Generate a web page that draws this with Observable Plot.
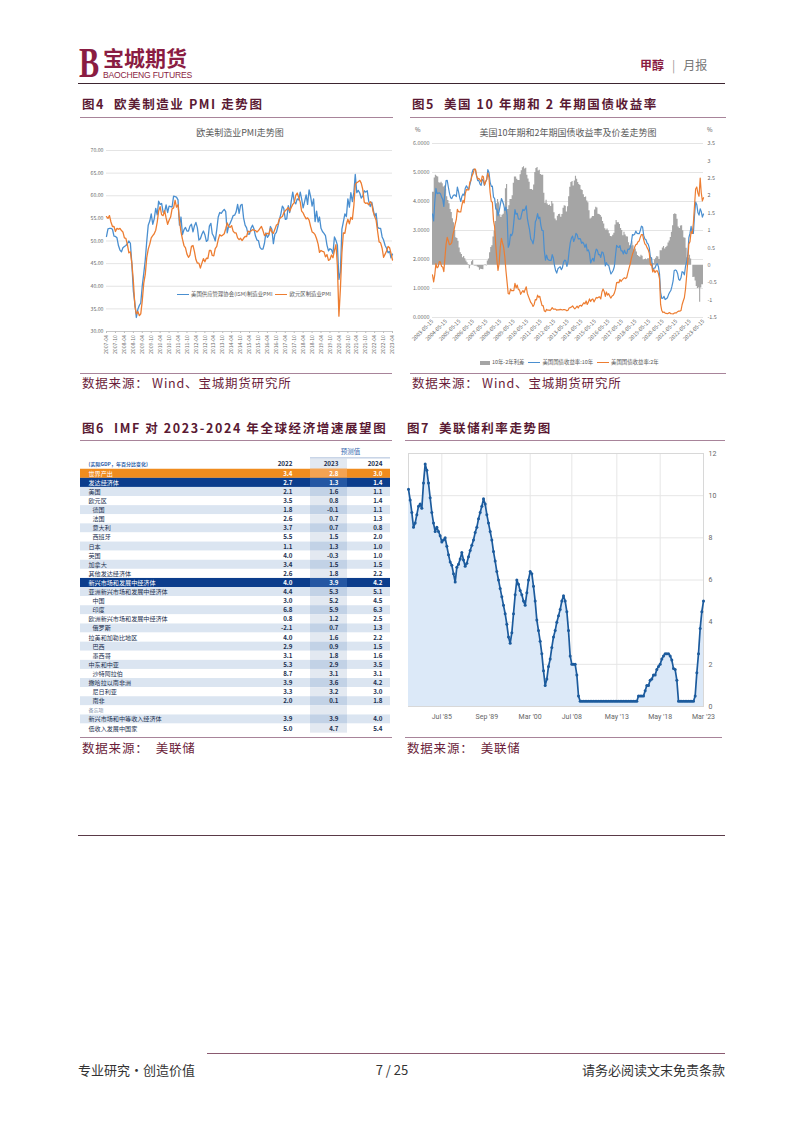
<!DOCTYPE html>
<html><head><meta charset="utf-8">
<script src="https://cdn.jsdelivr.net/npm/d3@7"></script>
<script src="https://cdn.jsdelivr.net/npm/@observablehq/plot@0.6"></script>
<style>
body{margin:0;background:#fff;font-family:"Noto Sans CJK SC","Noto Sans",sans-serif;}
#page{position:relative;width:802px;height:1133px;overflow:hidden;background:#fff;}
.abs{position:absolute;white-space:nowrap;}
.ftitle{font-size:12.5px;font-weight:bold;color:#5a1a33;line-height:14px;letter-spacing:1.6px;}
.hr{position:absolute;height:0;border-top:1px solid #a8849a;}
.src{font-size:12.5px;color:#6b1d3a;line-height:14px;letter-spacing:0.8px;}
.ctitle{font-size:9px;color:#595959;line-height:10px;transform:translateX(-50%);}
.leg{display:flex;align-items:center;font-size:5.4px;color:#595959;line-height:7px;}
.leg span.sw{display:inline-block;margin-right:2px;}
</style></head>
<body><div id="page">
<!-- header -->
<div class="abs" style="left:79px;top:41px;font-family:'Liberation Serif',serif;font-size:42px;font-weight:bold;color:#8a1c42;line-height:44px;transform:scaleX(0.72);transform-origin:left top;">B</div>
<div class="abs" style="left:103px;top:45px;font-size:21px;font-weight:bold;color:#8a1c42;line-height:24px;">宝城期货</div>
<div class="abs" style="left:103px;top:70px;font-family:'Liberation Sans',sans-serif;font-size:8.6px;color:#8a1c42;line-height:10px;letter-spacing:-0.2px;">BAOCHENG FUTURES</div>
<div class="abs" style="left:640px;top:57px;font-size:12px;line-height:15px;"><b style="color:#8a1c42;">甲醇</b><span style="color:#999;margin:0 8px;">|</span><span style="color:#777;">月报</span></div>
<div class="hr" style="left:78px;top:83px;width:647px;border-top:1.5px solid #3d2530;"></div>

<!-- fig titles row 1 -->
<div class="abs ftitle" style="left:82px;top:97px;">图4&nbsp;&nbsp;欧美制造业 PMI 走势图</div>
<div class="abs ftitle" style="left:412px;top:97px;">图5&nbsp;&nbsp;美国 10 年期和 2 年期国债收益率</div>
<div class="hr" style="left:80px;top:117px;width:313px;"></div>
<div class="hr" style="left:410px;top:117px;width:316px;"></div>

<div id="fig4" class="abs" style="left:80px;top:122px;"></div>
<div class="abs ctitle" style="left:240px;top:128px;">欧美制造业PMI走势图</div>
<div class="abs leg" style="left:177px;top:291px;"><span class="sw" style="width:12px;height:1.4px;background:#4a8fd0;"></span>美国供应管理协会(ISM)制造业PMI<span class="sw" style="width:12px;height:1.4px;background:#ed7d31;margin-left:3px;"></span>欧元区制造业PMI</div>

<div id="fig5" class="abs" style="left:405px;top:122px;"></div>
<div class="abs ctitle" style="left:568px;top:128px;">美国10年期和2年期国债收益率及价差走势图</div>
<div class="abs" style="left:415px;top:125px;font-size:6px;color:#595959;">%</div>
<div class="abs" style="left:707px;top:125px;font-size:6px;color:#595959;">%</div>
<div class="abs leg" style="left:480px;top:359px;"><span class="sw" style="width:10px;height:4px;background:#a5a5a5;"></span>10年-2年利差<span class="sw" style="width:12px;height:1.4px;background:#4a8fd0;margin-left:4px;"></span>美国国债收益率:10年<span class="sw" style="width:12px;height:1.4px;background:#ed7d31;margin-left:4px;"></span>美国国债收益率:2年</div>

<div class="hr" style="left:80px;top:373px;width:312px;"></div>
<div class="hr" style="left:410px;top:373px;width:316px;"></div>
<div class="abs src" style="left:82px;top:376px;">数据来源：&nbsp;Wind、宝城期货研究所</div>
<div class="abs src" style="left:412px;top:376px;">数据来源：&nbsp;Wind、宝城期货研究所</div>

<!-- row 2 -->
<div class="abs ftitle" style="left:82px;top:421px;">图6&nbsp;&nbsp;IMF 对 2023-2024 年全球经济增速展望图</div>
<div class="abs ftitle" style="left:407px;top:421px;">图7&nbsp;&nbsp;美联储利率走势图</div>
<div class="hr" style="left:80px;top:440px;width:312px;border-top:1.5px solid #a8849a;"></div>
<div class="hr" style="left:405px;top:440px;width:320px;border-top:1.5px solid #a8849a;"></div>

<div id="fig6" class="abs" style="left:80px;top:441px;"></div>
<div id="fig7" class="abs" style="left:405px;top:442px;"></div>

<div class="hr" style="left:80px;top:737px;width:312px;"></div>
<div class="hr" style="left:405px;top:737px;width:317px;"></div>
<div class="abs src" style="left:82px;top:741px;">数据来源：&nbsp;&nbsp;美联储</div>
<div class="abs src" style="left:407px;top:741px;">数据来源：&nbsp;&nbsp;美联储</div>

<div class="hr" style="left:78px;top:835px;width:647px;border-top:1px solid #5a3a48;"></div>

<!-- footer -->
<div class="hr" style="left:207px;top:1053px;width:518px;border-top:1.5px solid #8a5a70;"></div>
<div class="abs" style="left:78px;top:1062px;font-size:13px;color:#333;line-height:16px;">专业研究·创造价值</div>
<div class="abs" style="left:392px;top:1062px;font-size:13px;color:#333;line-height:16px;transform:translateX(-50%);">7 / 25</div>
<div class="abs" style="left:725px;top:1062px;font-size:13px;color:#333;line-height:16px;transform:translateX(-100%);">请务必阅读文末免责条款</div>
</div>

<script>
// ---------- Fig 4 data: monthly PMI 2007-04 .. 2023-04 ----------
const pmiStart = [2007, 3];
const ismPMI = [
51.0,52.7,52.8,52.8,52.6,51.1,51.0,50.7,49.0,
48.0,47.6,48.5,48.8,49.0,49.4,50.0,49.5,44.8,38.9,36.2,33.1,
34.9,35.8,36.3,40.1,42.8,45.8,49.9,53.5,54.4,56.0,53.7,54.9,
57.2,55.8,58.8,58.1,58.3,56.4,56.4,58.0,56.3,57.7,57.6,57.5,
59.9,59.8,59.7,59.1,53.5,55.3,51.4,52.5,53.0,52.2,52.2,53.3,
53.7,52.0,53.3,54.1,52.9,50.2,50.5,51.5,52.2,51.4,49.9,50.2,
53.3,53.9,51.6,51.0,50.0,52.5,55.3,56.3,56.1,56.6,57.0,56.5,
51.8,53.4,53.9,54.7,55.6,55.7,56.4,58.1,56.1,57.9,58.1,55.1,
53.5,52.9,51.5,51.5,52.8,53.5,52.7,51.1,50.2,50.1,48.6,48.2,
48.2,49.5,51.8,50.8,51.3,53.2,52.6,49.4,51.5,51.9,53.2,54.7,
56.0,57.7,57.2,54.8,54.9,57.8,56.3,58.8,60.8,58.7,58.2,59.3,
59.1,60.8,59.3,57.3,58.7,60.2,58.1,61.3,59.8,57.7,59.3,54.3,
56.6,54.2,55.3,52.8,52.1,51.7,51.2,49.1,47.8,48.3,48.1,47.2,
50.9,50.1,49.1,41.5,43.1,52.6,54.2,56.0,55.4,59.3,57.5,60.7,
58.7,60.8,64.7,60.7,61.2,60.6,59.5,59.9,61.1,60.8,61.1,58.8,
57.6,58.6,57.1,55.4,56.1,53.0,52.8,52.8,50.9,50.2,49.0,48.4,
47.4,47.7,46.3,47.1];
const euroPMI = [
55.4,55.0,55.6,54.2,53.2,53.2,52.1,52.8,52.6,
52.8,52.3,52.0,50.7,50.6,49.2,47.4,47.6,45.0,41.1,35.6,33.9,
34.4,33.5,33.9,36.8,40.7,42.6,46.3,48.2,49.3,50.7,51.2,51.6,
52.4,54.2,56.6,57.6,55.8,55.6,56.7,55.1,53.7,54.6,55.3,57.1,
57.3,59.0,57.5,58.0,54.6,52.0,50.4,49.0,48.5,47.1,46.4,46.9,
48.8,49.0,47.7,45.9,45.1,45.1,44.0,45.1,46.1,45.4,46.2,46.1,
47.9,47.9,46.8,46.7,48.3,48.8,50.3,51.4,51.1,51.3,51.6,52.7,
54.0,53.2,53.0,53.4,52.2,51.8,51.8,50.7,50.3,50.6,50.1,50.6,
51.0,51.0,52.2,52.0,52.2,52.5,52.4,52.3,52.0,52.3,52.8,53.2,
52.3,51.2,51.6,51.7,51.5,52.8,52.0,51.7,52.6,53.5,53.7,54.9,
55.2,55.4,56.2,56.7,57.0,57.4,56.6,57.4,58.1,58.5,60.1,60.6,
59.6,58.6,56.6,56.2,55.5,54.9,55.1,54.6,53.2,52.0,51.8,51.4,
50.5,49.3,47.5,47.9,47.7,47.6,46.5,47.0,45.7,45.9,46.9,46.3,
47.9,49.2,44.5,33.4,39.4,47.4,51.8,51.7,53.7,54.8,53.8,55.2,
54.8,57.9,62.5,62.9,63.1,63.4,62.8,61.4,58.6,58.3,58.4,58.0,
58.7,58.2,56.5,55.5,54.6,52.1,49.8,49.6,48.4,46.4,47.1,47.8,
48.8,48.5,47.3,45.8];
const pmiYTicks = [30,35,40,45,50,55,60,65,70];

// ---------- Fig 5 data: monthly yields 2003-05 .. 2023-05 ----------
const bondStart = [2003, 4];
const us10y = [
3.57,3.33,3.98,4.45,4.27,4.29,4.30,4.27,
4.15,4.08,3.83,4.35,4.72,4.73,4.50,4.28,4.13,4.10,4.19,4.23,
4.22,4.17,4.50,4.34,4.14,4.00,4.18,4.26,4.20,4.46,4.54,4.47,
4.42,4.57,4.72,4.99,5.11,5.11,5.09,4.88,4.72,4.73,4.60,4.56,
4.76,4.72,4.56,4.69,4.75,5.10,5.00,4.67,4.52,4.53,4.15,4.10,
3.74,3.74,3.51,3.68,3.88,4.10,4.01,3.89,3.69,3.81,3.53,2.42,
2.52,2.87,2.82,2.93,3.29,3.72,3.56,3.59,3.40,3.39,3.40,3.59,
3.73,3.69,3.73,3.85,3.42,3.20,3.01,2.70,2.65,2.54,2.76,3.29,
3.39,3.58,3.41,3.46,3.17,3.00,3.00,2.30,1.98,2.15,2.01,1.98,
1.97,1.97,2.17,2.05,1.80,1.62,1.53,1.68,1.72,1.75,1.65,1.72,
1.91,1.98,1.96,1.76,1.93,2.30,2.58,2.74,2.81,2.62,2.72,2.90,
2.86,2.71,2.72,2.71,2.56,2.60,2.54,2.42,2.53,2.30,2.33,2.21,
1.88,1.98,2.04,1.94,2.20,2.36,2.32,2.17,2.17,2.07,2.26,2.24,
2.09,1.78,1.89,1.81,1.81,1.64,1.50,1.56,1.63,1.76,2.14,2.49,
2.43,2.42,2.48,2.30,2.30,2.19,2.32,2.21,2.20,2.36,2.35,2.40,
2.58,2.86,2.84,2.87,2.98,2.91,2.89,2.89,3.00,3.15,3.12,2.83,
2.71,2.68,2.57,2.53,2.40,2.07,2.06,1.63,1.70,1.71,1.81,1.86,
1.76,1.50,0.87,0.66,0.67,0.73,0.62,0.65,0.68,0.79,0.87,0.93,
1.08,1.26,1.61,1.64,1.62,1.52,1.32,1.28,1.37,1.58,1.56,1.47,
1.76,1.93,2.13,2.75,2.90,3.14,2.90,2.90,3.52,3.98,3.89,3.62,
3.53,3.75,3.66,3.46,3.57];
const us2y = [
1.47,1.23,1.47,1.86,1.71,1.75,1.93,1.91,
1.76,1.74,1.58,2.07,2.53,2.76,2.64,2.51,2.53,2.58,2.85,3.01,
3.22,3.38,3.73,3.65,3.64,3.64,3.87,4.04,3.95,4.27,4.42,4.40,
4.40,4.67,4.73,4.89,4.97,5.12,5.12,4.90,4.77,4.80,4.74,4.67,
4.88,4.85,4.57,4.67,4.77,4.98,4.82,4.31,4.01,3.97,3.34,3.12,
2.48,1.97,1.62,1.88,2.43,2.73,2.57,2.42,2.08,1.61,1.21,0.82,
0.81,0.98,0.93,0.93,0.93,1.18,1.02,1.12,0.96,0.95,0.80,0.87,
0.93,0.86,0.96,1.06,0.83,0.72,0.62,0.52,0.47,0.38,0.45,0.62,
0.61,0.77,0.70,0.73,0.56,0.41,0.41,0.23,0.20,0.28,0.25,0.26,
0.24,0.28,0.34,0.29,0.29,0.29,0.25,0.27,0.26,0.28,0.27,0.26,
0.27,0.27,0.26,0.23,0.25,0.33,0.34,0.36,0.40,0.34,0.30,0.34,
0.39,0.33,0.40,0.42,0.39,0.45,0.51,0.47,0.57,0.45,0.53,0.64,
0.55,0.62,0.64,0.54,0.61,0.69,0.67,0.70,0.71,0.64,0.88,0.98,
0.90,0.73,0.88,0.77,0.82,0.73,0.67,0.74,0.77,0.84,0.98,1.20,
1.21,1.20,1.31,1.24,1.30,1.34,1.37,1.34,1.38,1.55,1.70,1.84,
2.03,2.18,2.28,2.42,2.51,2.53,2.61,2.64,2.77,2.86,2.86,2.68,
2.54,2.50,2.41,2.34,2.21,1.81,1.84,1.57,1.65,1.55,1.61,1.61,
1.52,1.33,0.45,0.24,0.17,0.19,0.15,0.14,0.13,0.15,0.17,0.13,
0.13,0.12,0.15,0.16,0.16,0.20,0.22,0.22,0.24,0.44,0.57,0.68,
0.98,1.44,1.91,2.54,2.61,2.96,2.90,3.25,3.86,4.43,4.50,4.29,
4.18,4.81,4.31,4.02,4.13];
const bondLeftTicks = [0,1,2,3,4,5,6];
const spreadTicks = [-1.5,-1,-0.5,0,0.5,1,1.5,2,2.5,3,3.5];

// ---------- Fig 6 data: IMF table ----------
const imfRegions = ["世界产出","发达经济体","美国","欧元区","德国","法国","意大利","西班牙","日本","英国","加拿大","其他发达经济体","新兴市场和发展中经济体","亚洲新兴市场和发展中经济体","中国","印度","欧洲新兴市场和发展中经济体","俄罗斯","拉美和加勒比地区","巴西","墨西哥","中东和中亚","沙特阿拉伯","撒哈拉以南非洲","尼日利亚","南非","备忘项","新兴市场和中等收入经济体","低收入发展中国家"];
const imfKind = ["world","group","item","item","sub","sub","sub","sub","item","item","item","item","group","item","sub","sub","item","sub","item","sub","sub","item","sub","item","sub","sub","memo","item","item"];
const imf2022 = [3.4,2.7,2.1,3.5,1.8,2.6,3.7,5.5,1.1,4.0,3.4,2.6,4.0,4.4,3.0,6.8,0.8,-2.1,4.0,2.9,3.1,5.3,8.7,3.9,3.3,2.0,null,3.9,5.0];
const imf2023 = [2.8,1.3,1.6,0.8,-0.1,0.7,0.7,1.5,1.3,-0.3,1.5,1.8,3.9,5.3,5.2,5.9,1.2,0.7,1.6,0.9,1.8,2.9,3.1,3.6,3.2,0.1,null,3.9,4.7];
const imf2024 = [3.0,1.4,1.1,1.4,1.1,1.3,0.8,2.0,1.0,1.0,1.5,2.2,4.2,5.1,4.5,6.3,2.5,1.3,2.2,1.5,1.6,3.5,3.1,4.2,3.0,1.8,null,4.0,5.4];
const imfYears = ["2022","2023","2024"];

// ---------- Fig 7 data: Fed rate, sequence of observations ----------
const fedRate = [
10.3,9.8,9.2,8.5,8.7,9.1,9.5,9.6,9.4,10.6,
11.5,11.2,10.6,9.9,9.2,8.7,8.3,8.5,8.3,8.1,
7.8,7.9,8.0,7.6,7.2,6.85,6.7,6.3,5.9,6.6,
6.75,7.0,7.3,6.95,6.65,6.8,7.1,7.4,7.65,7.9,
8.25,8.5,8.9,9.2,9.5,9.85,9.6,9.1,8.7,8.3,
7.9,7.35,6.9,6.4,6.0,5.6,5.2,4.8,4.4,3.9,
3.3,3.0,3.5,4.4,5.3,6.0,5.8,5.5,5.3,5.0,
4.8,5.4,6.0,6.4,6.3,5.7,5.0,4.1,3.6,3.1,
2.5,1.7,1.0,1.3,1.9,2.25,2.8,3.3,3.6,4.0,
4.3,4.6,5.0,5.25,5.0,4.5,3.6,2.4,2.0,2.0,
2.0,1.5,0.5,
0.25,0.25,0.25,0.25,0.25,0.25,0.25,0.25,0.25,0.25,
0.25,0.25,0.25,0.25,0.25,0.25,0.25,0.25,0.25,0.25,
0.25,0.25,0.25,0.25,0.25,0.25,0.25,0.25,0.25,0.25,
0.25,0.25,0.25,0.25,0.25,
0.5,0.5,0.5,0.5,0.75,1.0,1.0,1.25,1.3,1.5,1.5,1.75,1.9,2.0,2.25,2.4,2.5,2.5,2.5,2.4,2.2,1.8,1.75,1.25,0.25,
0.25,0.25,0.25,0.25,0.25,0.25,0.25,0.25,0.25,
0.5,1.6,2.5,3.7,4.5,5.0];
const fedTickObs = [20,47,73,98,125,151,177];
const fedTickLabels = ["Jul '85","Sep '89","Mar '00","Jul '08","May '13","May '18","Mar '23"];
const fedYTicks = [0,2,4,6,8,10,12];

// ================= build =================
const FONT = "'Noto Sans CJK SC','Noto Sans',sans-serif";

// Fig 4
{
  const months = ismPMI.map((_, i) => new Date(Date.UTC(pmiStart[0], pmiStart[1] + i, 1)));
  const rows = months.map((d, i) => ({date: d, ism: ismPMI[i], euro: euroPMI[i]}));
  const xt = months.filter((_, i) => i % 6 === 0);
  const fmt = d3.utcFormat("%Y-%m");
  const p = Plot.plot({
    width: 315, height: 236, marginLeft: 26, marginRight: 3, marginTop: 28, marginBottom: 27,
    style: {fontSize: "5.2px", fontFamily: FONT, color: "#6a6a6a", background: "#fff", overflow: "visible"},
    x: {type: "utc", domain: [months[0], months[months.length - 1]], label: null},
    y: {domain: [30, 70], label: null},
    marks: [
      Plot.gridY(pmiYTicks, {stroke: "#d9d9d9", strokeOpacity: 1, strokeWidth: 0.7}),
      Plot.axisY(pmiYTicks, {tickSize: 0, tickPadding: 3, tickFormat: d => d.toFixed(2)}),
      Plot.axisX(xt, {tickSize: 2, tickRotate: -90, tickPadding: 1.5, tickFormat: fmt, stroke: "#bbb"}),
      Plot.ruleY([30], {stroke: "#bfbfbf", strokeWidth: 0.8}),
      Plot.lineY(rows, {x: "date", y: "ism", stroke: "#4a8fd0", strokeWidth: 1.3}),
      Plot.lineY(rows, {x: "date", y: "euro", stroke: "#ed7d31", strokeWidth: 1.3})
    ]
  });
  document.getElementById("fig4").append(p);
}

// Fig 5
{
  const dates = us10y.map((_, i) => new Date(Date.UTC(bondStart[0], bondStart[1] + i, 15)));
  const toLeft = r => (r + 1.5) * 1.2;
  const fromLeft = v => Math.round((v / 1.2 - 1.5) * 10) / 10;
  const rows = dates.map((d, i) => ({date: d, y10: us10y[i], y2: us2y[i], sp: us10y[i] - us2y[i]}));
  const xt = d3.range(bondStart[0], bondStart[0] + 21).map(y => new Date(Date.UTC(y, 4, 15)));
  const p = Plot.plot({
    width: 320, height: 246, marginLeft: 27, marginRight: 22, marginTop: 21, marginBottom: 51,
    style: {fontSize: "5.4px", fontFamily: FONT, color: "#6a6a6a", background: "#fff", overflow: "visible"},
    x: {type: "utc", domain: [dates[0], dates[dates.length - 1]], label: null},
    y: {domain: [0, 6], label: null},
    marks: [
      Plot.gridY(bondLeftTicks, {stroke: "#d9d9d9", strokeOpacity: 1, strokeWidth: 0.7}),
      Plot.axisY(bondLeftTicks, {anchor: "left", tickSize: 0, tickPadding: 3, tickFormat: d => d.toFixed(4)}),
      Plot.axisY(spreadTicks.map(toLeft), {anchor: "right", tickSize: 0, tickPadding: 4, tickFormat: v => String(fromLeft(v))}),
      Plot.axisX(xt, {tickSize: 0, tickRotate: -45, tickPadding: 3, tickFormat: d3.utcFormat("%Y-%m-%d")}),
      Plot.areaY(rows, {x: "date", y1: () => toLeft(0), y2: d => toLeft(d.sp), fill: "#a5a5a5", curve: "step"}),
      Plot.lineY(rows, {x: "date", y: "y10", stroke: "#4a8fd0", strokeWidth: 1.2}),
      Plot.lineY(rows, {x: "date", y: "y2", stroke: "#ed7d31", strokeWidth: 1.2})
    ]
  });
  document.getElementById("fig5").append(p);
}

// Fig 6 table
{
  const W = 310;
  const colRight = [212, 258, 302];     // right edge of 2022/2023/2024 value text
  const shade23 = [230, 267];           // 2023 column band
  let alt = 0;
  const rows = imfRegions.map((name, i) => {
    const kind = imfKind[i];
    let band;
    if (kind === "world") band = "world";
    else if (kind === "group") { band = "group"; alt = 0; }
    else { band = alt % 2 === 0 ? "light" : "white"; alt++; }
    return {i, name, kind, band, v: [imf2022[i], imf2023[i], imf2024[i]]};
  });
  const rowFill = {world: "#f08c1e", group: "#0b3d8c", light: "#dbe5f1", white: "#ffffff"};
  const colFill = {world: "#f4a352", group: "#2457a3", light: "#c2d2e6", white: "#e3e9f1"};
  const txtFill = r => (r.band === "world" || r.band === "group") ? "#ffffff" : "#22304f";
  const fmtV = v => v == null ? "" : v.toFixed(1);
  const vals = rows.flatMap(r => r.v.map((v, j) => ({i: r.i, j, t: fmtV(v), r})));
  const p = Plot.plot({
    width: 312, height: 296, margin: 0,
    style: {fontFamily: FONT, background: "#fff", overflow: "visible"},
    x: {domain: [0, 312], range: [0, 312], axis: null},
    y: {domain: [-0.5, 28.5], range: [27.75, 291.65], axis: null},
    color: {type: "identity"},
    marks: [
      Plot.rect([{}], {x1: shade23[0], x2: shade23[1], y1: -1.6, y2: -0.5, fill: "#e3e9f1"}),
      Plot.rect(rows, {x1: 0, x2: W, y1: d => d.i - 0.5, y2: d => d.i + 0.5, fill: d => rowFill[d.band]}),
      Plot.rect(rows, {x1: shade23[0], x2: shade23[1], y1: d => d.i - 0.5, y2: d => d.i + 0.5, fill: d => colFill[d.band]}),
      Plot.ruleY([-1.75], {x1: shade23[0], x2: W, y: d => d, stroke: "#6f8fc0", strokeWidth: 0.6}),
      Plot.text(["预测值"], {x: (shade23[0] + W) / 2, y: -2.45, text: d => d, fill: "#3a6bb0", fontSize: 6.5}),
      Plot.text(["(实际GDP，年百分比变化)"], {x: 8, y: -1.05, text: d => d, textAnchor: "start", fill: "#2a5ca8", fontSize: 5, fontWeight: "bold"}),
      Plot.text(imfYears, {x: (d, j) => colRight[j], y: -1.05, text: d => d, textAnchor: "end", fill: "#22304f", fontSize: 6.3, fontWeight: "bold"}),
      Plot.text(rows, {x: d => d.kind === "sub" ? 12 : 8, y: "i", text: "name", textAnchor: "start",
        fill: d => d.kind === "memo" ? "#7a8aa5" : txtFill(d), fontSize: d => d.kind === "memo" ? 5 : 6.1,
        fontWeight: d => (d.band === "world" || d.band === "group") ? "bold" : "normal"}),
      Plot.text(vals, {x: d => colRight[d.j], y: "i", text: "t", textAnchor: "end", fill: d => txtFill(d.r), fontSize: 6.2, fontWeight: "bold"})
    ]
  });
  document.getElementById("fig6").append(p);
}

// Fig 7
{
  const rows = fedRate.map((v, i) => ({i, v}));
  const lab = new Map(fedTickObs.map((o, k) => [o, fedTickLabels[k]]));
  const p = Plot.plot({
    width: 320, height: 290, marginLeft: 3, marginRight: 22, marginTop: 11, marginBottom: 26,
    style: {fontSize: "7px", fontFamily: "'Liberation Sans Narrow','Roboto',sans-serif", color: "#666", background: "#fff", overflow: "visible"},
    x: {domain: [0, fedRate.length - 1], label: null},
    y: {domain: [0, 12], label: null},
    marks: [
      Plot.gridX(fedTickObs, {stroke: "#e6e6e6", strokeOpacity: 1}),
      Plot.gridY(fedYTicks, {stroke: "#e6e6e6", strokeOpacity: 1}),
      Plot.frame({stroke: "#d8d8d8"}),
      Plot.axisY(fedYTicks, {anchor: "right", tickSize: 0, tickPadding: 5}),
      Plot.axisX(fedTickObs, {tickSize: 0, tickPadding: 8, tickFormat: d => lab.get(d)}),
      Plot.areaY(rows, {x: "i", y: "v", fill: "#dce9f8"}),
      Plot.lineY(rows, {x: "i", y: "v", stroke: "#1c5b9d", strokeWidth: 1.7}),
      Plot.dot(rows, {x: "i", y: "v", r: 1.5, fill: "#1c5b9d"})
    ]
  });
  document.getElementById("fig7").append(p);
}
</script>
</body></html>
